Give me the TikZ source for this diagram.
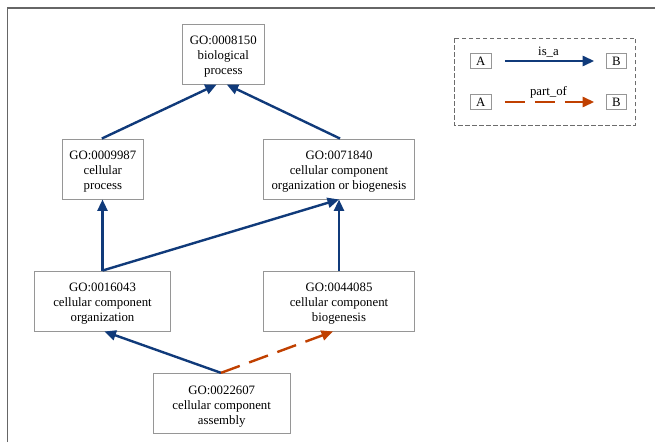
\documentclass[tikz,border=0pt]{standalone}
\usepackage{fontspec}
\setmainfont{Liberation Serif}
\usepackage{tikz}
\usetikzlibrary{positioning,arrows.meta}
\definecolor{isablue}{RGB}{16,58,122}
\definecolor{partorange}{RGB}{192,64,0}
\definecolor{boxgray}{RGB}{150,150,150}
\newcommand{\gostrut}{\rule{0pt}{14.5pt}}
\tikzset{goterm/.style={draw=boxgray,line width=0.9pt,fill=white,align=center,minimum height=60pt,inner sep=2pt,font=\fontsize{12.8}{15}\selectfont},
legbox/.style={draw=boxgray,line width=0.9pt,minimum width=20.7pt,minimum height=14.5pt,inner sep=0pt,font=\fontsize{12.8}{15}\selectfont},
isa/.style={draw=isablue,line width=2.4pt,-{Triangle[length=11.5pt,width=10pt]}},
partof/.style={draw=partorange,line width=2.4pt,dash pattern=on 20pt off 10pt,-{Triangle[length=11.5pt,width=10pt]}}}

\begin{document}
\begin{tikzpicture}[x=1pt,y=-1pt]
\useasboundingbox (0,0) rectangle (655,442);
\draw[gray!80!black,line width=1.5pt] (7.5,442) -- (7.5,8) -- (655,8);
\node[goterm,minimum width=81.3pt] (bp) at (223.3,54) {\gostrut GO:0008150\\biological\\process};
\node[goterm,minimum width=81pt] (cp) at (102.8,169) {\gostrut GO:0009987\\cellular\\process};
\node[goterm,minimum width=150.7pt] (ccob) at (339,169) {\gostrut GO:0071840\\cellular component\\organization or biogenesis};
\node[goterm,minimum width=136.4pt] (cco) at (102.5,301) {\gostrut GO:0016043\\cellular component\\organization};
\node[goterm,minimum width=150.7pt] (ccb) at (339,301) {\gostrut GO:0044085\\cellular component\\biogenesis};
\node[goterm,minimum width=137.3pt] (cca) at (221.7,403.3) {\gostrut GO:0022607\\cellular component\\assembly};
\draw[isa] ([xshift=-1pt]cp.north) -- ([xshift=-6.6pt]bp.south);
\draw[isa] ([xshift=1pt]ccob.north) -- ([xshift=3.4pt]bp.south);
\draw[isa] (cco.north) -- (cco.north |- cp.south);
\draw[isa] (cco.north) -- (ccob.south);
\draw[isa] (ccb.north) -- (ccob.south);
\draw[isa] ([xshift=-0.7pt]cca.north) -- ([xshift=2pt]cco.south);
\draw[partof] ([xshift=-0.7pt]cca.north) -- ([xshift=-6pt]ccb.south);
\draw[gray!85!black,line width=1pt,dash pattern=on 4.5pt off 2.5pt] (454.3,38) rectangle (635.7,125);
\node[legbox] (isaA) at (480.7,61) {A};
\node[legbox] (isaB) at (616.3,61) {B};
\node[legbox] (partA) at (480.7,102) {A};
\node[legbox] (partB) at (616.3,102) {B};
\draw[isa,shorten <=13.3pt,shorten >=11.3pt] (isaA) -- node[above=-1pt,font=\fontsize{12.8}{15}\selectfont]{is\_a} (isaB);
\draw[partof,shorten <=13.3pt,shorten >=11.3pt] (partA) -- node[above=-1pt,font=\fontsize{12.8}{15}\selectfont]{part\_of} (partB);
\end{tikzpicture}
\end{document}
